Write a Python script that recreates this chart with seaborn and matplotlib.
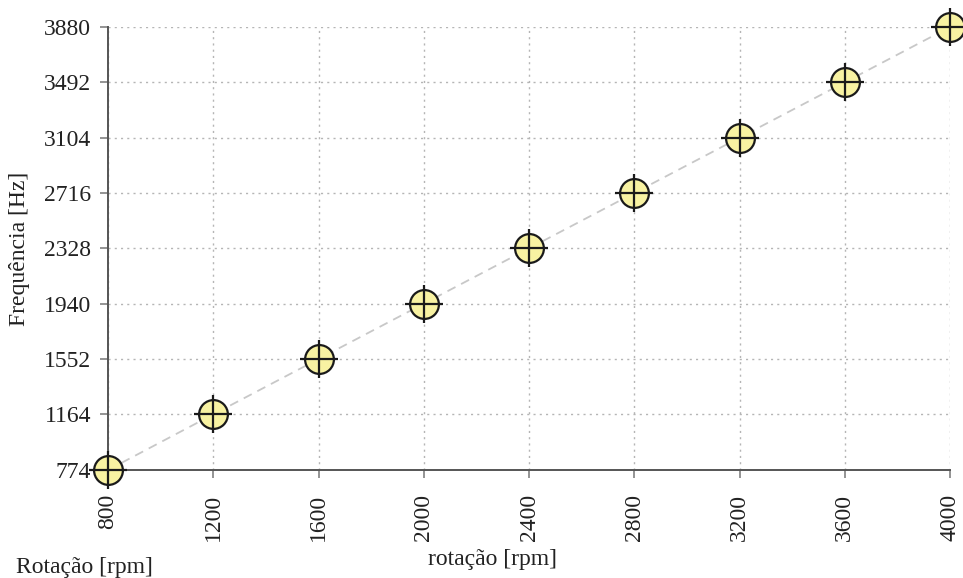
import matplotlib
matplotlib.use("Agg")
import matplotlib.pyplot as plt
import seaborn as sns
import pandas as pd

# rotation speed (rpm) and the corresponding frequency (Hz)
rotacao = [800, 1200, 1600, 2000, 2400, 2800, 3200, 3600, 4000]
frequencia = [774, 1164, 1552, 1940, 2328, 2716, 3104, 3492, 3880]
x_ticks = [800, 1200, 1600, 2000, 2400, 2800, 3200, 3600, 4000]
y_ticks = [774, 1164, 1552, 1940, 2328, 2716, 3104, 3492, 3880]

df = pd.DataFrame({"rotacao": rotacao, "frequencia": frequencia})

sns.set_theme(style="white")
plt.rcParams["font.family"] = ["Liberation Serif", "DejaVu Serif"]

fig = plt.figure(figsize=(9.63, 5.78), dpi=100)
ax = fig.add_axes([108 / 963, 1 - 470 / 578, (950 - 108) / 963, (470 - 27) / 578])

# dashed trend line through the measurements
sns.lineplot(data=df, x="rotacao", y="frequencia", ax=ax, color="#c8c8c8",
             linestyle=(0, (5, 3.5)), linewidth=1.3, zorder=2)
# circular markers with crosshair
sns.scatterplot(data=df, x="rotacao", y="frequencia", ax=ax, marker="o", s=430,
                color="#f8f2a2", edgecolor="#1a1a1a", linewidth=1.6, zorder=3,
                clip_on=False)
sns.scatterplot(data=df, x="rotacao", y="frequencia", ax=ax, marker="+", s=720,
                color="#1a1a1a", linewidth=1.6, zorder=4, clip_on=False)

ax.set_xlim(800, 4000)
ax.set_ylim(774, 3880)
ax.set_xticks(x_ticks)
ax.set_yticks(y_ticks)
ax.set_xticklabels([str(v) for v in x_ticks], rotation=90)
ax.set_yticklabels([str(v) for v in y_ticks])

ax.grid(True, color="#b5b5b5", linestyle=(0, (1.5, 3)), linewidth=1.0, zorder=0)
ax.set_axisbelow(True)

for side in ("top", "right"):
    ax.spines[side].set_visible(False)
for side in ("left", "bottom"):
    ax.spines[side].set_color("#555555")
    ax.spines[side].set_linewidth(1.4)

ax.tick_params(axis="both", which="major", direction="out", length=6, width=1.1,
               color="#777777", labelsize=17, labelcolor="#222222",
               left=True, bottom=True)
ax.tick_params(axis="y", pad=6)
ax.tick_params(axis="x", pad=11)

ax.set_xlabel("rotação [rpm]", fontsize=17, color="#222222", labelpad=6, x=0.457)
ax.set_ylabel("Frequência [Hz]", fontsize=17, color="#222222", labelpad=10)

fig.text(16 / 963, 1 - 567 / 578, "Rotação [rpm]", fontsize=17, color="#222222",
         ha="left", va="center")

fig.savefig("out.png", dpi=100)
